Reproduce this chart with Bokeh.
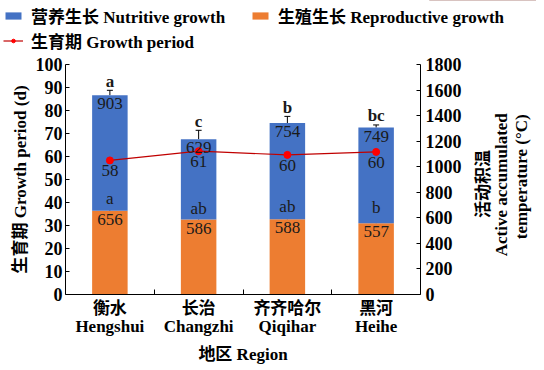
import numpy as np
from bokeh.plotting import figure
from bokeh.layouts import column
from bokeh.models import (Range1d, LinearAxis, FixedTicker, ColumnDataSource,
                          Whisker, TeeHead, Legend, LegendItem)
from bokeh.core.properties import value
from bokeh.embed import file_html
from bokeh.resources import INLINE

# ---- data ----
regions_cn = ["衡水", "长治", "齐齐哈尔", "黑河"]
regions_en = ["Hengshui", "Changzhi", "Qiqihar", "Heihe"]
reproductive = [656, 586, 588, 557]          # 生殖生长 active accumulated temp
nutritive = [903, 629, 754, 749]             # 营养生长 active accumulated temp
reproductive_err = [42, 34, 45, 66]
total_err = [39, 70, 52, 21]
reproductive_sig = ["a", "ab", "ab", "b"]
total_sig = ["a", "c", "b", "bc"]
growth_period = [58.3, 62.3, 60.7, 62.0]     # 生育期 (d)
growth_period_labels = ["58", "61", "60", "60"]
left_ticks = list(range(0, 101, 10))
right_ticks = list(range(0, 1801, 200))
right_label_lines = ["活动积温", "Active accumulated", "temperature (°C)"]

SERIF = "Liberation Serif, Noto Sans CJK SC"
BLUE = "#4472C4"
ORANGE = "#ED7D31"
LINE_RED = "#C00000"
DOT_RED = "#FF0000"
FW, FH = 355, 230
LEG_H = 55

x = list(range(1, len(regions_en) + 1))
total = [r + n for r, n in zip(reproductive, nutritive)]
src = ColumnDataSource(dict(
    x=x, rep=reproductive, nut=nutritive, total=total,
    rep_hi=[r + e for r, e in zip(reproductive, reproductive_err)],
    tot_hi=[t + e for t, e in zip(total, total_err)],
    rep_lbl=[str(v) for v in reproductive], nut_lbl=[str(v) for v in nutritive],
    rep_sig=reproductive_sig, tot_sig=total_sig,
    gp=growth_period, gp_lbl=growth_period_labels,
))

def no_frame_align(fig):
    if "frame_align" in fig.properties():
        fig.frame_align = False

# ---------- legend strip (proxies share the data but lie outside its view) ----------
lf = figure(width=536, height=LEG_H, min_border=0, toolbar_location=None,
            output_backend="svg", x_range=Range1d(0, 1), y_range=Range1d(-2, -1),
            x_axis_location=None, y_axis_location=None)
lf.outline_line_color = None
lf.grid.visible = False
no_frame_align(lf)
l_nut = lf.vbar(x="x", bottom="rep", top="total", width=0.4, fill_color=BLUE,
                line_color=None, source=src)
l_rep = lf.vbar(x="x", bottom=0, top="rep", width=0.4, fill_color=ORANGE,
                line_color=None, source=src)
l_line = lf.line(x="x", y="gp", line_color=LINE_RED, line_width=1.2, source=src)
l_pts = lf.scatter(x="x", y="gp", size=7, fill_color=DOT_RED, line_color=DOT_RED, source=src)
legend = Legend(items=[
    LegendItem(label="营养生长 Nutritive growth", renderers=[l_nut]),
    LegendItem(label="生殖生长 Reproductive growth", renderers=[l_rep]),
    LegendItem(label="生育期 Growth period", renderers=[l_line, l_pts]),
], orientation="horizontal", ncols=2, location="top_left",
    margin=3, padding=0, spacing=0, glyph_width=20, glyph_height=9,
    label_standoff=8, label_width=219, label_height=20,
    label_text_font=SERIF, label_text_font_style="bold", label_text_font_size="17px",
    label_text_color="black", border_line_color=None, background_fill_alpha=0)
lf.add_layout(legend, "center")

# ---------- main chart ----------
p = figure(frame_width=FW, frame_height=FH, output_backend="svg", toolbar_location=None,
           x_range=Range1d(0.5, len(x) + 0.5), y_range=Range1d(0, 100),
           min_border_left=65, min_border_right=60, min_border_top=64 - LEG_H,
           min_border_bottom=60)
no_frame_align(p)
p.extra_y_ranges = {"temp": Range1d(0, 1800)}
p.outline_line_color = None
p.xgrid.visible = False
p.ygrid.visible = False

p.vbar(x="x", bottom=0, top="rep", width=0.4, fill_color=ORANGE, line_color=None,
       y_range_name="temp", source=src)
p.vbar(x="x", bottom="rep", top="total", width=0.4, fill_color=BLUE, line_color=None,
       y_range_name="temp", source=src)

for lo, hi in (("rep", "rep_hi"), ("total", "tot_hi")):
    w = Whisker(base="x", lower=lo, upper=hi, source=src, y_range_name="temp",
                lower_head=None, upper_head=TeeHead(size=6, line_width=1, line_color="black"),
                line_color="black", line_width=1)
    p.add_layout(w)

p.line(x="x", y="gp", line_color=LINE_RED, line_width=1.2, source=src)
p.scatter(x="x", y="gp", size=7, fill_color=DOT_RED, line_color=DOT_RED, source=src)

txt = dict(text_align="center", text_font=value(SERIF), text_font_size="17px",
           text_color="#1a1a1a", source=src)
p.text(x="x", y="total", text="nut_lbl", y_range_name="temp", text_baseline="top",
       y_offset=3, **txt)
p.text(x="x", y="rep", text="rep_lbl", y_range_name="temp", text_baseline="top",
       y_offset=3, **txt)
p.text(x="x", y="gp", text="gp_lbl", text_baseline="top", y_offset=5, **txt)
p.text(x="x", y="rep_hi", text="rep_sig", y_range_name="temp", text_baseline="alphabetic",
       y_offset=-7, **txt)
p.text(x="x", y="tot_hi", text="tot_sig", y_range_name="temp", text_baseline="alphabetic",
       y_offset=-9, text_font_style="bold", **txt)

def style_axis(ax):
    ax.axis_line_color = "black"
    ax.axis_line_width = 1
    ax.major_tick_in = 4
    ax.major_tick_out = 0
    ax.minor_tick_line_color = None
    ax.major_label_text_font = SERIF
    ax.major_label_text_font_style = "bold"
    ax.major_label_text_font_size = "18px"
    ax.major_label_text_color = "black"
    ax.axis_label_text_font = SERIF
    ax.axis_label_text_font_style = "bold"
    ax.axis_label_text_font_size = "17px"
    ax.axis_label_text_color = "black"

yl = p.yaxis[0]
style_axis(yl)
yl.ticker = FixedTicker(ticks=left_ticks)
yl.axis_label = "生育期 Growth period (d)"
yl.major_label_standoff = 3
yl.axis_label_standoff = 3

# right axis: ticks + first label line; two more label-only axes for the other lines
right_standoffs = [19, -4, -2]
right_lead_pad = [18, 9, 13]   # leading no-break spaces that lift each rotated line
yr = LinearAxis(y_range_name="temp", ticker=FixedTicker(ticks=right_ticks))
style_axis(yr)
yr.major_label_standoff = 5
right_axes = [yr]
for _ in right_label_lines[1:]:
    ax = LinearAxis(y_range_name="temp", ticker=FixedTicker(ticks=[]))
    style_axis(ax)
    ax.axis_line_color = None
    ax.major_tick_line_color = None
    ax.major_label_standoff = 0
    right_axes.append(ax)
for ax, line, so, pad in zip(right_axes, right_label_lines, right_standoffs, right_lead_pad):
    if "axis_label_align" in ax.properties():
        ax.axis_label_align = "start"
        ax.axis_label = "\u00a0" * pad + line
    else:
        ax.axis_label = line
    ax.axis_label_orientation = float(np.pi / 2)
    ax.axis_label_standoff = so
    p.add_layout(ax, "right")

xa = p.xaxis[0]
style_axis(xa)
xa.ticker = FixedTicker(ticks=x, minor_ticks=[v + 0.5 for v in x[:-1]])
xa.major_tick_line_color = None
xa.minor_tick_line_color = "black"
xa.minor_tick_in = 5
xa.minor_tick_out = 0
xa.major_label_overrides = {v: f"{c}\n{e}" for v, c, e in zip(x, regions_cn, regions_en)}
xa.major_label_text_font_size = "17px"
xa.major_label_text_line_height = 0.95
xa.axis_label = "地区 Region"
xa.major_label_standoff = 4
xa.axis_label_standoff = 6

open("out.html", "w").write(file_html(column(lf, p), INLINE))
